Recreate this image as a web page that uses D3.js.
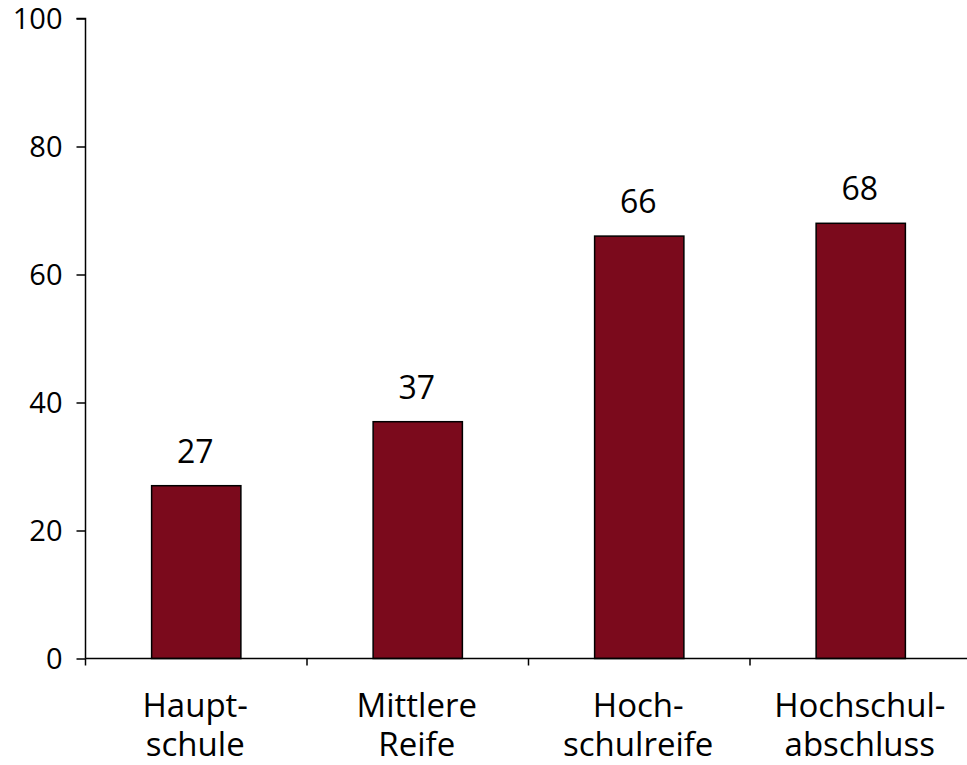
<!DOCTYPE html>
<html><head><meta charset="utf-8">
<script src="https://cdn.jsdelivr.net/npm/d3@7"></script>
<style>body{margin:0;background:#fff}svg{display:block}text{font-family:"Open Sans",sans-serif;fill:#000}</style>
</head><body><svg id="c" width="967" height="765"></svg>
<script>
const categories = [["Haupt-","schule"],["Mittlere","Reife"],["Hoch-","schulreife"],["Hochschul-","abschluss"]];
const values = [27, 37, 66, 68];
const yTicks = [0, 20, 40, 60, 80, 100];

const svg = d3.select("#c");
const x0 = 85.5, x1 = 971.5, yTop = 18.5, yBot = 658.5;
const keys = categories.map((c,i)=>i);
const x = d3.scaleBand().domain(keys).range([x0, x1]).paddingInner(0).paddingOuter(0);
const y = d3.scaleLinear().domain([0,100]).range([yBot, yTop]);
const bw = x.bandwidth()*0.403;

// bars
svg.selectAll("rect.bar").data(values).join("rect")
  .attr("x",(d,i)=>x(i)+x.bandwidth()/2-bw/2)
  .attr("y",d=>y(d)).attr("width",bw).attr("height",d=>yBot-y(d))
  .attr("fill","#7b0a1c").attr("stroke","#000").attr("stroke-width",1.5);

// value labels
svg.selectAll("text.val").data(values).join("text")
  .attr("x",(d,i)=>x(i)+x.bandwidth()/2-1).attr("y",d=>y(d)-23)
  .attr("text-anchor","middle").attr("font-size",32).text(d=>d);

// y axis
const ya = svg.append("g").attr("transform",`translate(${x0},0)`)
  .call(d3.axisLeft(y).tickValues(yTicks).tickSize(9).tickPadding(14));
ya.select(".domain").attr("stroke","#000").attr("stroke-width",1.5).attr("d",`M-9,${yTop}H0V${yBot}`);
ya.selectAll(".tick line").attr("stroke","#000").attr("stroke-width",1.5);
ya.selectAll(".tick text").attr("font-size",29).attr("font-family","Open Sans, sans-serif").attr("fill","#000").attr("dy","0.36em");

// x axis
const xa = svg.append("g").attr("transform",`translate(0,${yBot})`);
xa.append("line").attr("x1",x0).attr("x2",967).attr("stroke","#000").attr("stroke-width",1.5);
const bounds = keys.map(i=>x(i)).concat([x1]);
xa.selectAll("line.t").data(bounds).join("line")
  .attr("x1",d=>d).attr("x2",d=>d).attr("y1",0).attr("y2",7)
  .attr("stroke","#000").attr("stroke-width",1.5);

// category labels
const cl = svg.selectAll("text.cat").data(categories).join("text")
  .attr("text-anchor","middle").attr("font-size",33);
cl.each(function(d,i){
  const t = d3.select(this);
  d.forEach((line,j)=>{
    t.append("tspan").attr("x",x(i)+x.bandwidth()/2-1).attr("y",717+j*39).text(line);
  });
});
</script></body></html>
